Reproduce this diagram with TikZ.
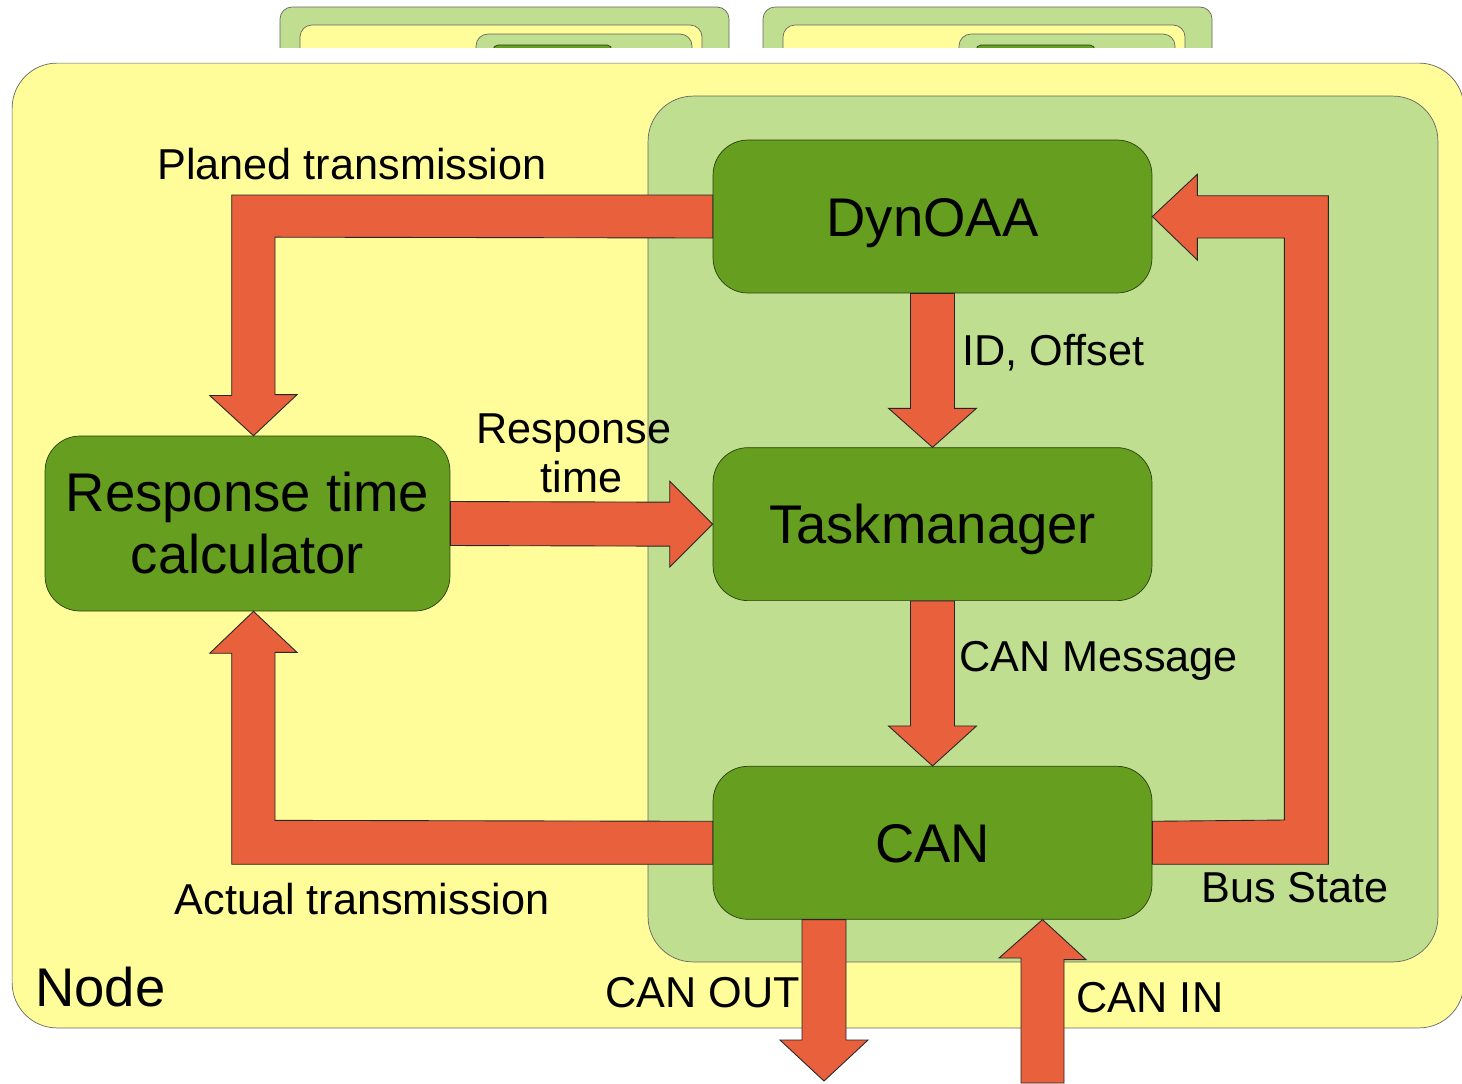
\documentclass[tikz,border=0pt]{standalone}
\usepackage{fontspec}
\setmainfont{Liberation Sans}
\usetikzlibrary{positioning, calc}
\definecolor{nodeyellow}{RGB}{255,253,153}
\definecolor{areagreen}{RGB}{191,222,143}
\definecolor{taskgreen}{RGB}{102,158,32}
\definecolor{flowred}{RGB}{233,96,61}

\begin{document}
\begin{tikzpicture}[x=0.02cm, y=-0.02cm,
        container/.style={draw=black!60, fill=nodeyellow, rounded corners=0.9cm, inner sep=0pt},
        area/.style={draw=black!60, fill=areagreen, rounded corners=0.9cm, inner sep=0pt},
        block/.style={draw=black!60!taskgreen, fill=taskgreen, rounded corners=0.7cm, minimum width=8.78cm, minimum height=3.06cm, font=\fontsize{31}{35.3}\selectfont},
        oneline/.style={text height=22.3pt, text depth=0pt},
        fat/.style={draw=black!85, fill=flowred, line width=0.5pt},
        lbl/.style={font=\fontsize{24.6}{28}\selectfont, align=center, inner sep=0pt}
    ]
        \useasboundingbox (0,0) rectangle (1462,1083);

        % Other nodes behind
        \begin{scope}
            \clip (0,0) rectangle (1462,47);
            \foreach \dx in {0,483} {
                \draw[draw=black!60, fill=areagreen, rounded corners=0.24cm] (280+\dx,7) rectangle (729+\dx,100);
                \draw[draw=black!60, fill=nodeyellow, rounded corners=0.24cm] (300+\dx,25) rectangle (702+\dx,100);
                \draw[draw=black!60, fill=areagreen, rounded corners=0.24cm] (476+\dx,34) rectangle (692+\dx,100);
                \draw[draw=black!60!taskgreen, fill=taskgreen, rounded corners=0.1cm] (493+\dx,45) rectangle (612+\dx,100);
            }
        \end{scope}

        % Nodes
        \node (nodebox) [container, minimum width=29.04cm, minimum height=19.3cm] at (738,545.5) {};
        \node (ecu) [area, minimum width=15.8cm, minimum height=17.32cm] at (1043,529) {};
        \node (dyn) [block, oneline] at (932.5,216.5) {DynOAA};
        \node (tsk) [block, oneline, below=3.08cm of dyn] {Taskmanager};
        \node (can) [block, oneline, below=3.3cm of tsk] {CAN};
        \node (rtc) [block, align=center, minimum width=8.1cm, minimum height=3.5cm] at (247.5,523.5) {Response time\\calculator};
        \coordinate (out) at (824,1081);
        \coordinate (in) at (1042.5,1083);

        % Arrows
        \draw [fat] ($(dyn.west)+(0,-21.5)$) -- ++(-481,0) -- ++(0,200.5) -- ++(-22,0) -- ($(rtc.north)+(6,0)$)
            -- ++(43.5,-41) -- ++(-22,0) -- ++(0,-157.5) -- ($(dyn.west)+(0,21.5)$) -- cycle;
        \draw [fat] ($(can.west)+(0,21.5)$) -- ++(-481,0) -- ++(0,-211) -- ++(-22,0) -- ($(rtc.south)+(6,0)$)
            -- ++(43.5,41) -- ++(-22,0) -- ++(0,168) -- ($(can.west)+(0,-21.5)$) -- cycle;
        \draw [fat] ($(rtc.east)+(0,-22)$) -- ($(tsk.west)+(-43,-22)$) -- ++(0,-21) -- (tsk.west)
            -- ++(-43,43) -- ++(0,-21) -- ($(rtc.east)+(0,22)$) -- cycle;
        \draw [fat] ($(dyn.south)+(-22,0)$) -- ($(tsk.north)+(-22,-39)$) -- ++(-22,0) -- (tsk.north)
            -- ++(44,-39) -- ++(-22,0) -- ($(dyn.south)+(22,0)$) -- cycle;
        \draw [fat] ($(tsk.south)+(-22,0)$) -- ($(can.north)+(-22,-40)$) -- ++(-22,0) -- (can.north)
            -- ++(44,-40) -- ++(-22,0) -- ($(tsk.south)+(22,0)$) -- cycle;
        \draw [fat] ($(can.east)+(0,21.5)$) -- ++(176,0) -- ++(0,-668.5) -- ++(-131,0) -- ++(0,-21.5) -- (dyn.east)
            -- ++(45,43.5) -- ++(0,-22) -- ++(87,0) -- ++(0,582) -- ($(can.east)+(0,-21.5)$) -- cycle;
        \draw [fat] ($(can.south)+(-130.5,0)$) -- ($(out)+(-22,-41)$) -- ++(-22,0) -- (out)
            -- ++(44,-41) -- ++(-22,0) -- ($(can.south)+(-86.5,0)$) -- cycle;
        \draw [fat] ($(in)+(-21.5,0)$) -- ++(0,-125) -- ++(-22,0) -- ($(can.south)+(110,0)$)
            -- ++(43.5,40) -- ++(-22,0) -- ($(in)+(21.5,0)$) -- cycle;

        % Annotations
        \node (lplan) [lbl] at (352,164) {Planed transmission};
        \node (lid) [lbl, anchor=west] at (962,353) {ID, Offset};
        \node (lresp) [lbl] at (574,453) {Response\\\hspace*{0.3cm}time};
        \node (lmsg) [lbl, anchor=west] at (959,661) {CAN Message};
        \node (lact) [lbl] at (362,899) {Actual transmission};
        \node (lbus) [lbl] at (1295,888) {Bus State};
        \node (lnode) [lbl, anchor=west, font=\fontsize{31}{35.3}\selectfont] at (35,987) {Node};
        \node (lout) [lbl] at (703,993) {CAN OUT};
        \node (lin) [lbl] at (1150,998) {CAN IN};

    \end{tikzpicture}
\end{document}
